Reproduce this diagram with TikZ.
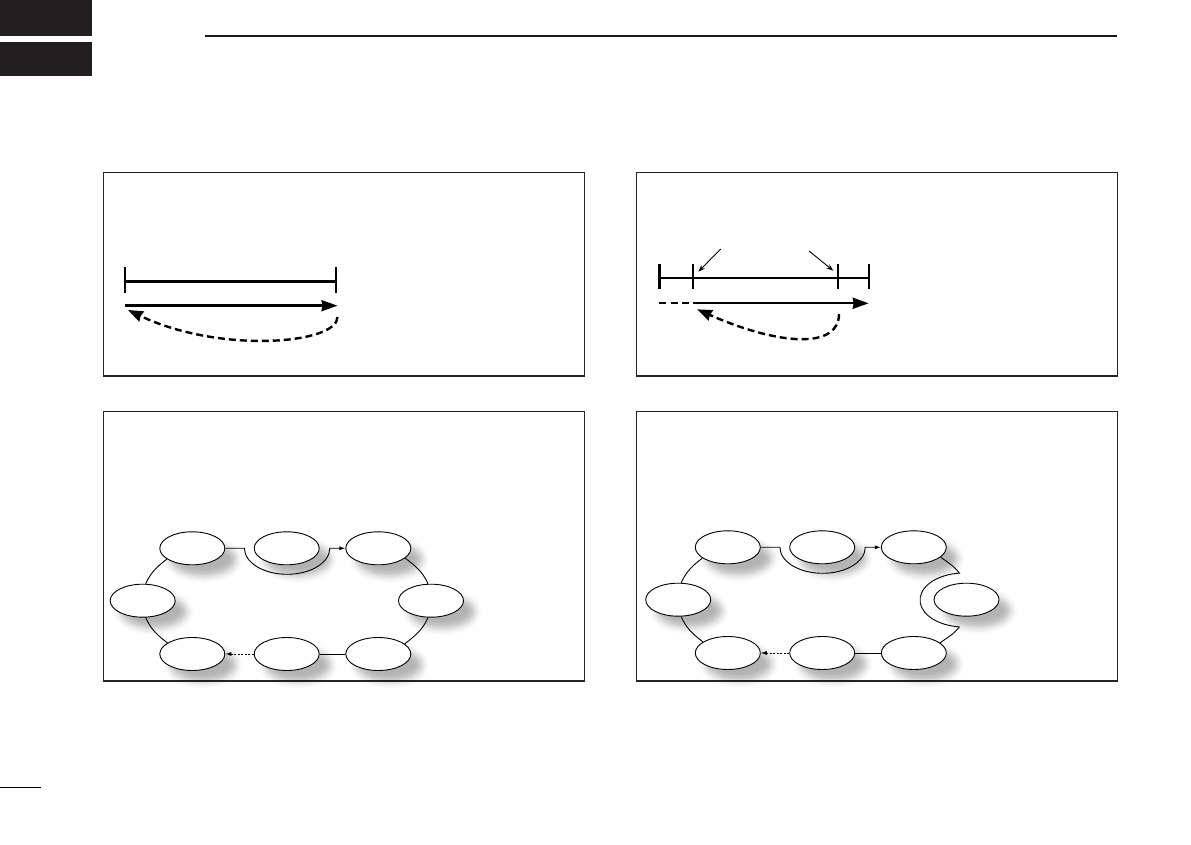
\documentclass[tikz,border=0pt]{standalone}
\usetikzlibrary{arrows.meta,shapes.geometric,shadows.blur}
\definecolor{tabcol}{RGB}{35,31,32}
\begin{document}
\begin{tikzpicture}[x=1pt,y=1pt,
  panel/.style={draw=black!85,line width=1.2pt},
  bar/.style={line width=2.4pt},
  bigarrow/.style={line width=2.4pt,-{Stealth[length=16pt,width=11pt,inset=1pt]}},
  dasharrow/.style={line width=2.4pt,dash pattern=on 7pt off 4pt,-{Stealth[length=15pt,width=11pt,inset=1pt]}},
  dashline/.style={line width=2.4pt,dash pattern=on 7pt off 4.5pt},
  thinarrow/.style={line width=0.9pt,-{Stealth[length=7pt,width=5pt]}},
  st/.style={ellipse,draw,line width=0.9pt,fill=white,minimum width=65pt,minimum height=33pt,inner sep=0pt,
    blur shadow={shadow xshift=11pt,shadow yshift=-11pt,shadow blur radius=7pt,shadow opacity=30}},
  ln/.style={line width=0.9pt},
  smallhead/.style={-{Latex[length=6pt,width=4pt]}},
  dots/.style={line width=0.9pt,dash pattern=on 2pt off 1.5pt}
]
\useasboundingbox (0,0) rectangle (1191,844);
% header
\fill[tabcol] (0,808) rectangle (92,844);
\fill[tabcol] (0,768) rectangle (92,802);
\coordinate (h1) at (205,808.3); \coordinate (h2) at (1117,808.3);
\draw[line width=2pt,black!90] (h1) -- (h2);
\coordinate (f1) at (0,56.7); \coordinate (f2) at (41,56.7);
\draw[line width=1.3pt] (f1) -- (f2);
% panels
\draw[panel] (103.3,468) rectangle (584.3,671.3);
\draw[panel] (636.7,468) rectangle (1117.3,671.3);
\draw[panel] (103.3,163) rectangle (584.3,432.3);
\draw[panel] (636.7,163) rectangle (1117.3,432.3);
% panel 1
\coordinate (p1a) at (125,562.3); \coordinate (p1b) at (336,562.3);
\draw[bar] (p1a) -- (p1b);
\draw[bar] (125,577.3) -- (125,551.3);
\draw[bar] (336,577.3) -- (336,551.3);
\coordinate (p1s) at (125,538.3); \coordinate (p1e) at (337.5,538.3);
\draw[bigarrow] (p1s) -- (p1e);
\coordinate (p1r) at (337.5,527); \coordinate (p1l) at (128,534);
\draw[dasharrow] (p1r) .. controls (337.5,500) and (220,490) .. (p1l);
% panel 2
\coordinate (p2a) at (659.3,565.7); \coordinate (p2b) at (868.7,565.7);
\draw[bar] (p2a) -- (p2b);
\foreach \x in {659.3,692.7,838,868.7} \draw[bar] (\x,579.7) -- (\x,555);
\coordinate (q1) at (720.7,595); \coordinate (q2) at (698.3,572.3);
\draw[thinarrow] (q1) -- (q2);
\coordinate (q3) at (809,593); \coordinate (q4) at (833.3,573.3);
\draw[thinarrow] (q3) -- (q4);
\coordinate (p2d) at (659.3,540.7); \coordinate (p2s) at (692.7,540.7); \coordinate (p2e) at (868.7,540.7);
\draw[dashline] (p2d) -- (p2s);
\draw[bigarrow] (p2s) -- (p2e);
\coordinate (p2r) at (839,530); \coordinate (p2l) at (697,534.7);
\draw[dasharrow] (p2r) .. controls (839,495) and (780,498) .. (p2l);
% panel 3
\newcommand\ringnodes[1]{%
  \node[st] (#1TL) at (192.3,295.7) {};
  \node[st] (#1TM) at (286.7,295.7) {};
  \node[st] (#1TR) at (378.3,295.7) {};
  \node[st] (#1L)  at (142.7,243.3) {};
  \node[st] (#1R)  at (431,243.3) {};
  \node[st] (#1BL) at (192.3,190) {};
  \node[st] (#1BM) at (286.7,190) {};
  \node[st] (#1BR) at (378.3,190) {};
  \draw[ln,smallhead] (#1TL.east) -- ++(19.2,0) arc[start angle=180,end angle=360,x radius=42.65,y radius=26] -- (#1TR.west);
  \draw[ln] (#1BR.west) -- (#1BM.east);
  \draw[dots,smallhead] (#1BM.west) -- (#1BL.east);
  \draw[ln] (#1TL.203) to[out=218,in=66] (#1L.80);
  \draw[ln] (#1L.280) to[out=294,in=142] (#1BL.156);
}
\ringnodes{a}
\draw[ln] (aTR.340) to[out=322,in=114] (aR.100);
\draw[ln] (aR.260) to[out=246,in=38] (aBR.21);
% panel 4
\begin{scope}[shift={(535.5,1)}]
\ringnodes{b}
\coordinate (bDt) at (423.9,269.85);
\draw[ln] (bTR.340) to[out=322,in=127] (bDt) arc[start angle=96,end angle=264,x radius=44,y radius=27] coordinate (bDb);
\draw[ln] (bDb) to[out=233,in=38] (bBR.21);
\end{scope}
\end{tikzpicture}
\end{document}
